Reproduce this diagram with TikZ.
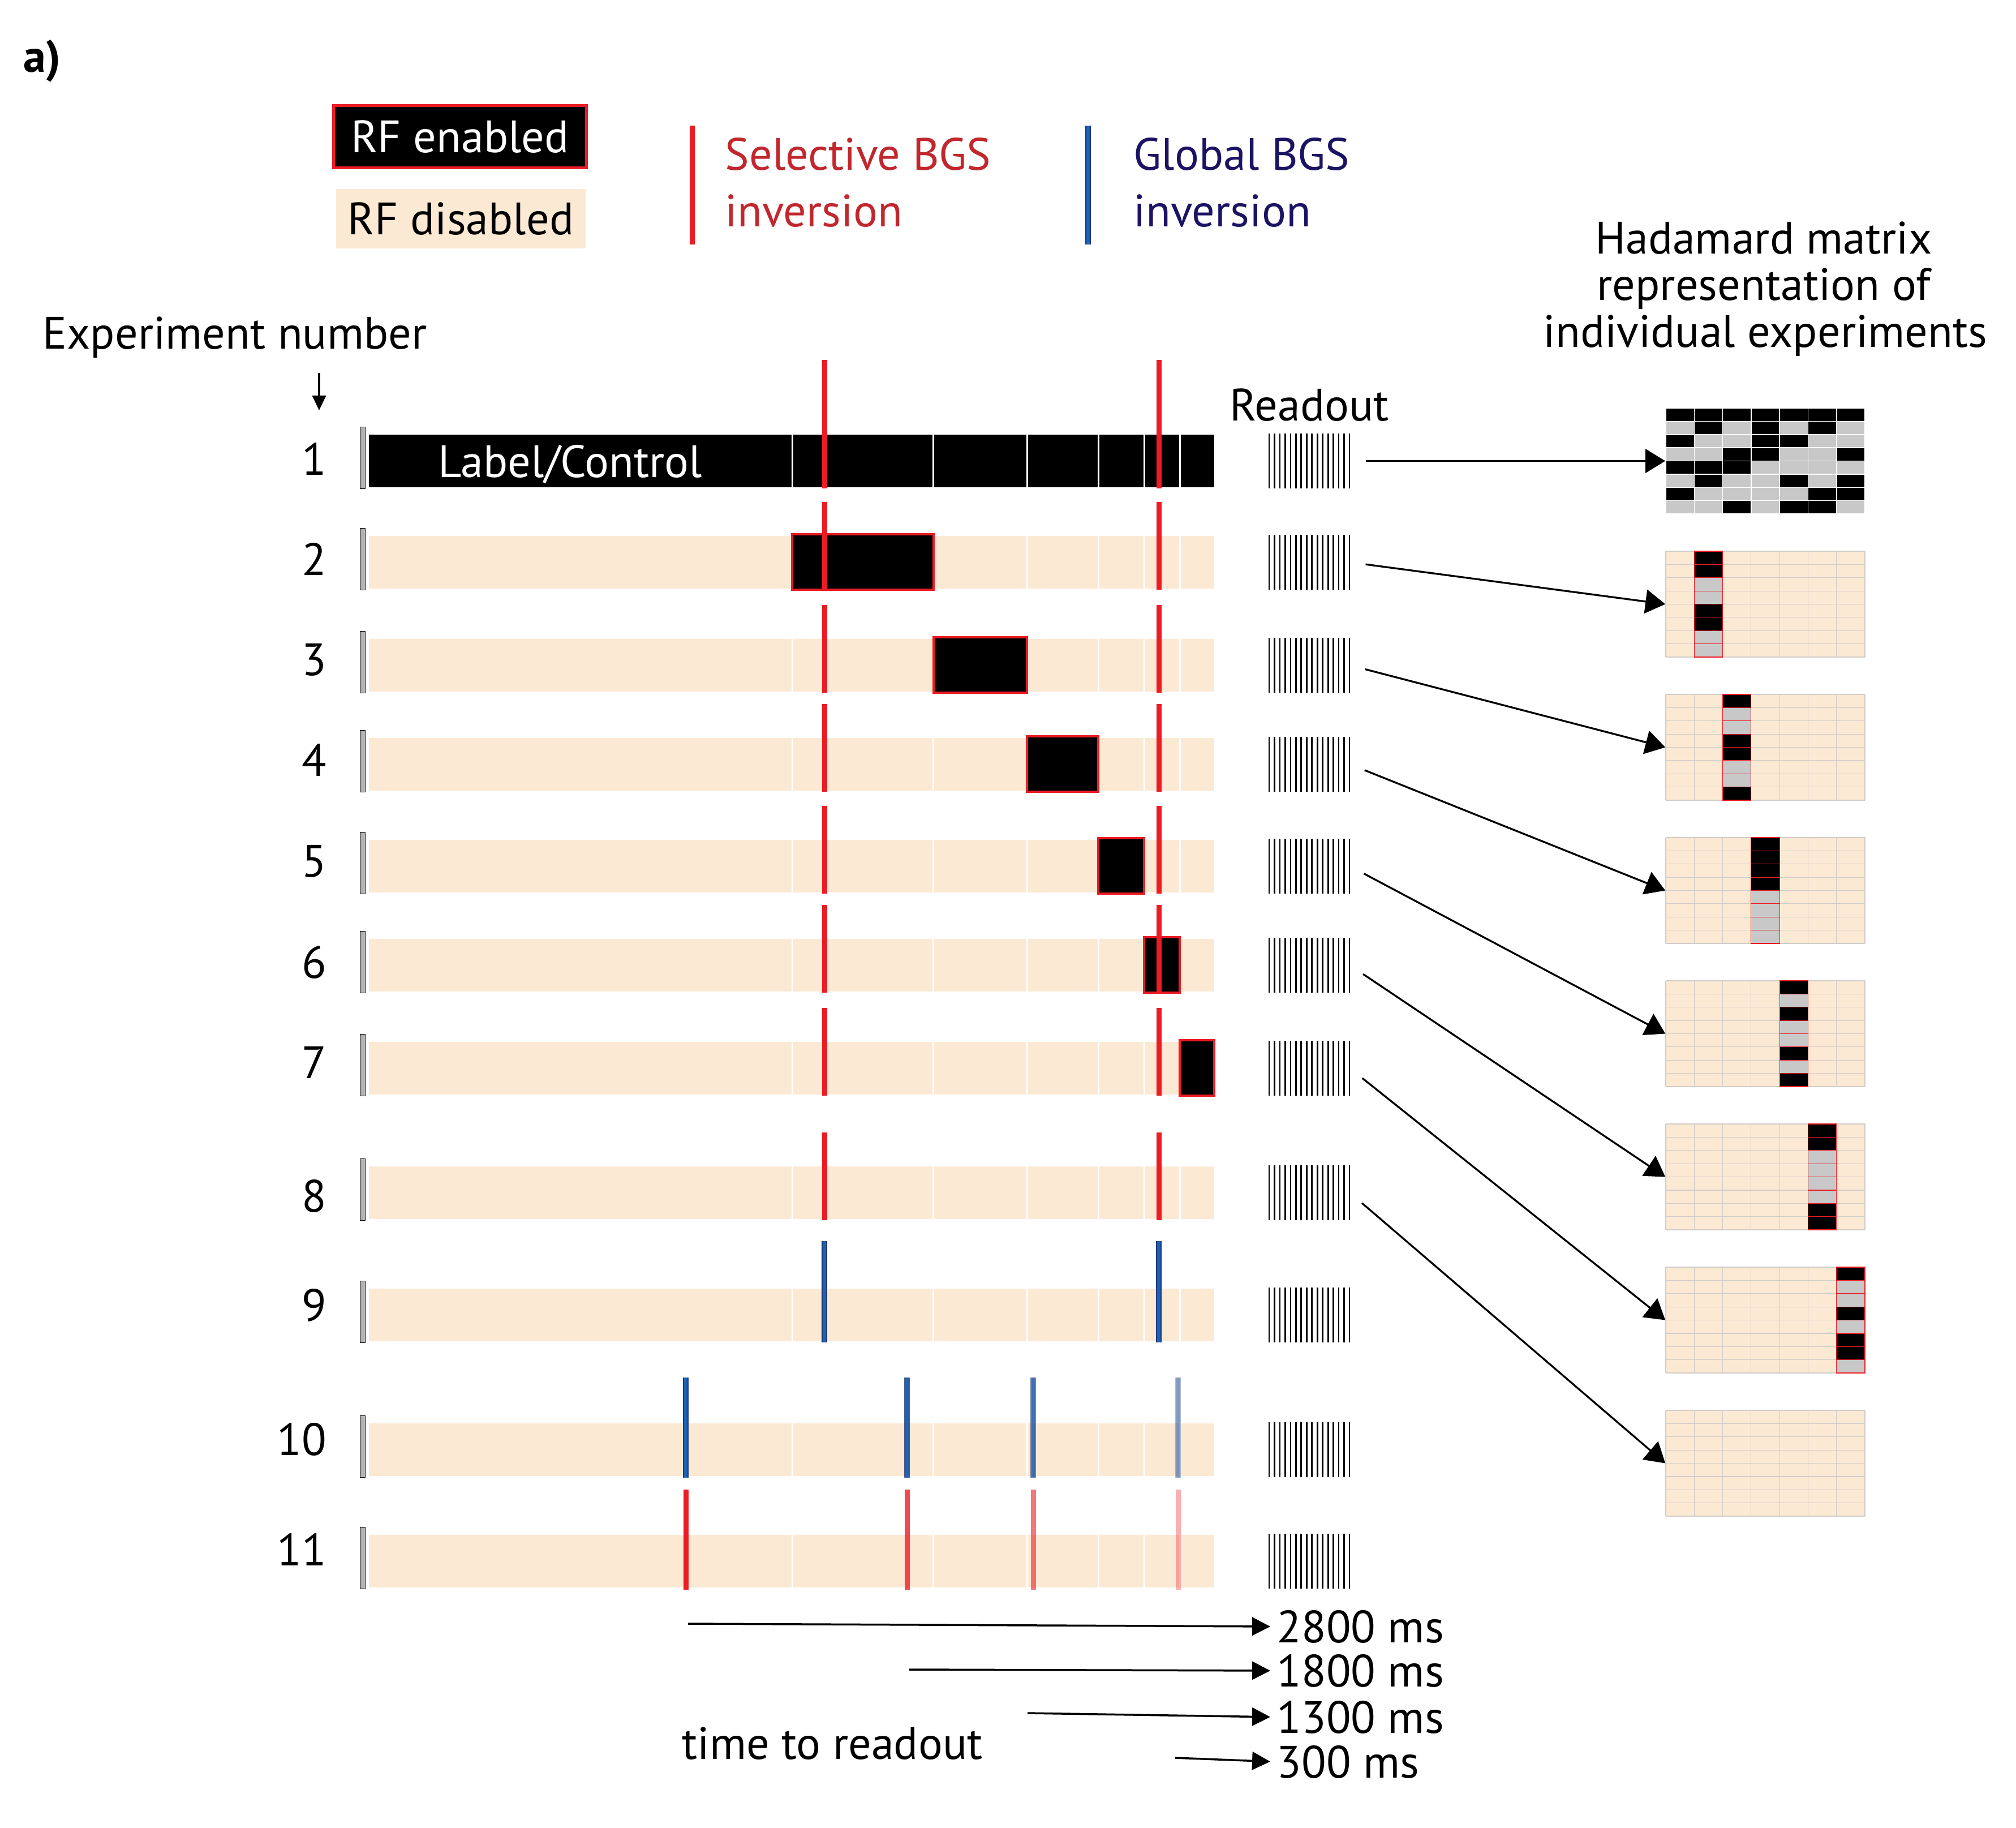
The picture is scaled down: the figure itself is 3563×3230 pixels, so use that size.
\documentclass[tikz,border=0pt]{standalone}
\usepackage{fontspec}
\setmainfont{PT Sans}
\usepackage{tikz}
\usetikzlibrary{arrows.meta,positioning,calc}

\definecolor{rfoff}{RGB}{252,233,212}
\definecolor{selred}{RGB}{236,28,36}
\definecolor{seltext}{RGB}{193,39,45}
\definecolor{globblue}{RGB}{28,98,180}
\definecolor{globedge}{RGB}{27,54,120}
\definecolor{globtext}{RGB}{27,20,100}
\definecolor{cellgrey}{RGB}{200,200,200}
\definecolor{gridgrey}{RGB}{208,204,200}
\colorlet{hb}{black}
\colorlet{hg}{cellgrey}

\begin{document}
\begin{tikzpicture}[x=0.01cm, y=-0.01cm,
  lbl/.style={font=\fontsize{22.8}{27}\selectfont, inner sep=0pt},
  rfbox/.style={fill=black, draw=selred, line width=0.04cm},
  divider/.style={white, line width=0.03cm},
  selline/.style={selred, line width=0.09cm},
  globline/.style={draw=globedge, line width=0.015cm, double=globblue, double distance=0.065cm},
  marker/.style={fill=gray!60, draw=black, line width=0.01cm},
  tick/.style={line width=0.027cm},
  hadarrow/.style={line width=0.033cm, shorten <=0.28cm, -{Triangle[length=0.35cm, width=0.42cm]}},
  timearrow/.style={line width=0.035cm, shorten >=0.11cm, -{Triangle[length=0.32cm, width=0.32cm]}}]
  \useasboundingbox (0,0) rectangle (3563,3230);

  % Legend
  \node[lbl, font=\fontsize{22.8}{27}\selectfont\bfseries, anchor=base west] (panel) at (41,127) {a)};
  \node[rfbox, line width=0.05cm, minimum width=4.47cm, minimum height=1.10cm, inner sep=0pt] (rfon) at (813,241.5) {};
  \node[lbl, text=white] at (rfon) {RF enabled};
  \node[fill=rfoff, minimum width=4.41cm, minimum height=1.05cm, inner sep=0pt] (rfoffbox) at (814.5,386.5) {};
  \node[lbl] at (rfoffbox) {RF disabled};
  \draw[selline] (1223,222) -- (1223,432);
  \node[lbl, text=seltext, anchor=base west] (sel1) at (1281,300) {Selective BGS};
  \node[lbl, text=seltext, anchor=base west] (sel2) at (1281,400) {inversion};
  \draw[globline] (1923,222) -- (1923,432);
  \node[lbl, text=globtext, anchor=base west] (glob1) at (2003,300) {Global BGS};
  \node[lbl, text=globtext, anchor=base west] (glob2) at (2003,400) {inversion};

  % Headings
  \node[lbl, anchor=base west] (expno) at (75,616) {Experiment number};
  \coordinate (expA) at (564,659);
  \coordinate (expB) at (564,725);
  \draw[line width=0.035cm, -{Triangle[length=0.26cm, width=0.24cm]}] (expA) -- (expB);
  \node[lbl, anchor=base west] (readout) at (2173,743) {Readout};
  \node[lbl, anchor=base] (had1) at (3117,448) {Hadamard matrix};
  \node[lbl, anchor=base] (had2) at (3117,530) {representation of};
  \node[lbl, anchor=base] (had3) at (3120,613) {individual experiments};

  % Experiment rows: bar, markers, labels, readout
  \foreach \n/\yt/\yl in {1/768/811,2/947/988,3/1129/1166,4/1304/1343,5/1484/1522,6/1659/1700,
                          7/1841/1877,8/2061/2113,9/2277/2306,10/2515/2543,11/2712/2738} {
    \fill[rfoff] (652,\yt) rectangle (2146,\yt+93);
    \filldraw[marker] (636,\yt-14) rectangle (645,\yt+95);
    \node[lbl, anchor=east] (num\n) at (578,\yl) {\n};
    \node[inner sep=0pt, minimum width=1.42cm, minimum height=0.97cm] (ro\n) at (2314,\yt+46.5) {};
    \foreach \k in {0,...,15}
      \draw[tick] (2243+\k*9.47,\yt-2) -- (2243+\k*9.47,\yt+95);
  }
  \fill[black] (652,768) rectangle (2146,861);
  \node[lbl, text=white, anchor=base] (lc) at (1008,843) {Label/Control};
  \foreach \yt in {768,947,1129,1304,1484,1659,1841,2061,2277,2515,2712}
    \foreach \xd in {1400,1649,1815,1941,2022,2085}
      \draw[divider] (\xd,\yt) -- (\xd,\yt+93);

  % RF enabled blocks
  \foreach \xa/\xb/\yt in {1400/1650/947,1650/1815/1129,1815/1941/1304,1941/2022/1484,2022/2085/1659,2085/2146/1841}
    \draw[rfbox] (\xa,\yt-3) rectangle (\xb,\yt+95);

  % Selective inversions
  \draw[selline] (1457,636) -- (1457,863);
  \draw[selline] (2048,636) -- (2048,863);
  \foreach \yt in {947,1129,1304,1484,1659,1841,2061} {
    \draw[selline] (1457,\yt-60) -- (1457,\yt+95);
    \draw[selline] (2048,\yt-60) -- (2048,\yt+95);
  }
  % Global inversions
  \draw[globline] (1457,2193) -- (1457,2372);
  \draw[globline] (2048,2193) -- (2048,2372);
  \foreach \xp/\op in {1212/1,1603/0.8,1826/0.6,2082/0.35} {
    \draw[globline, opacity=\op] (\xp,2434) -- (\xp,2611);
    \draw[selline, opacity=\op] (\xp,2632) -- (\xp,2809);
  }

  % Hadamard matrices
  \foreach \n in {1,...,8} {
    \pgfmathsetmacro\mtop{721+253*(\n-1)}
    \node[inner sep=0pt, minimum width=3.52cm, minimum height=1.87cm] (m\n) at (3120,\mtop+93.5) {};
  }
  \foreach \n in {2,...,8} {
    \pgfmathsetmacro\mtop{721+253*(\n-1)}
    \fill[rfoff] (2944,\mtop) rectangle (3296,\mtop+187);
    \foreach \c in {0,...,7}
      \draw[gridgrey, line width=0.012cm] (2944+\c*50.286,\mtop) -- (2944+\c*50.286,\mtop+187);
    \foreach \r in {0,...,8}
      \draw[gridgrey, line width=0.012cm] (2944,\mtop+\r*23.375) -- (3296,\mtop+\r*23.375);
  }
  \foreach \r/\hrow in {0/{b,b,b,b,b,b,b},1/{g,b,g,b,g,b,g},2/{b,g,g,b,b,g,g},3/{g,g,b,b,g,g,b},
                        4/{b,b,b,g,g,g,g},5/{g,b,g,g,b,g,b},6/{b,g,g,g,g,b,b},7/{g,g,b,g,b,b,g}} {
    \foreach \v [count=\c] in \hrow {
      \filldraw[fill=h\v, draw=white, line width=0.015cm]
        (2944+\c*50.286-50.286,721+\r*23.375) rectangle ++(50.286,23.375);
      \ifnum\c>1
        \filldraw[fill=h\v, draw=selred, line width=0.012cm]
          (2944+\c*50.286-50.286,721+253*\c-253+\r*23.375) rectangle ++(50.286,23.375);
      \fi
    }
  }

  % Readout to matrix
  \foreach \n in {1,...,8}
    \draw[hadarrow] (ro\n.east) -- (m\n.west);

  % Time to readout
  \coordinate (t1) at (1216,2869);
  \coordinate (t2) at (1607,2950);
  \coordinate (t3) at (1816,3027);
  \coordinate (t4) at (2077,3106);
  \node[lbl, anchor=west] (ms1) at (2256,2874) {2800 ms};
  \node[lbl, anchor=west] (ms2) at (2256,2952) {1800 ms};
  \node[lbl, anchor=west] (ms3) at (2256,3034) {1300 ms};
  \node[lbl, anchor=west] (ms4) at (2256,3113) {300 ms};
  \foreach \i in {1,...,4}
    \draw[timearrow] (t\i) -- (ms\i.west);
  \node[lbl] (ttr) at (1471,3081) {time to readout};
\end{tikzpicture}
\end{document}
